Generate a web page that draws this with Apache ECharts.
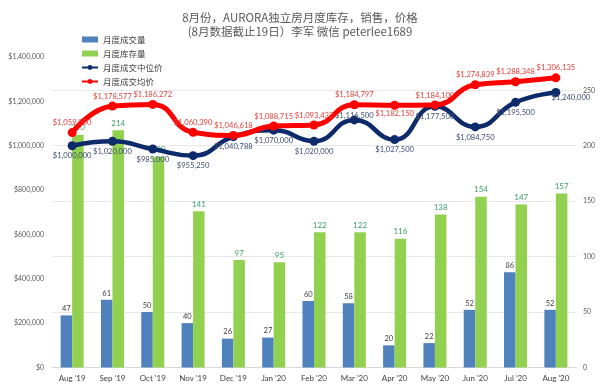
<!DOCTYPE html>
<html>
<head>
<meta charset="utf-8">
<script src="https://cdn.jsdelivr.net/npm/echarts@6/dist/echarts.min.js"></script>
<style>
html,body{margin:0;padding:0;background:#fff;}
#chart{width:600px;height:391px;}
</style>
</head>
<body>
<div id="chart"></div>
<script>
const months = ["Aug '19","Sep '19","Oct '19","Nov '19","Dec '19","Jan '20","Feb '20","Mar '20","Apr '20","May '20","Jun '20","Jul '20","Aug '20"];
const salesVolume = [47, 61, 50, 40, 26, 27, 60, 58, 20, 22, 52, 86, 52];
const inventory = [210, 214, 190, 141, 97, 95, 122, 122, 116, 138, 154, 147, 157];
const medianPrice = [1000000, 1020000, 985000, 955250, 1040788, 1070000, 1020000, 1116500, 1027500, 1177500, 1084750, 1195500, 1240000];
const meanPrice = [1059050, 1178577, 1186272, 1060390, 1046618, 1088715, 1093432, 1184797, 1182150, 1184100, 1274839, 1288348, 1306135];
const leftTicks = [0, 200000, 400000, 600000, 800000, 1000000, 1200000, 1400000];
const rightTicks = [0, 50, 100, 150, 200, 250];

const FONT = "Lato, 'Noto Sans CJK SC', sans-serif";
function money(v){ return '$' + Math.round(v).toString().replace(/\B(?=(\d{3})+(?!\d))/g, ','); }

const meanData = meanPrice.map((v, i) => {
  const d = { value: v };
  if (i === 8) d.label = { position: 'bottom', distance: 0 };
  return d;
});
const medianData = medianPrice.map((v, i) => {
  const d = { value: v };
  if (i === 7) d.label = { position: 'top', distance: -4 };
  if (i === 12) d.label = { position: 'bottom', distance: -3, offset: [15, 0] };
  return d;
});

const chart = echarts.init(document.getElementById('chart'), null, { renderer: 'canvas' });
chart.setOption({
  animation: false,
  backgroundColor: '#ffffff',
  textStyle: { fontFamily: FONT },
  title: {
    text: '8月份，AURORA独立房月度库存，销售，价格\n(8月数据截止19日）李军 微信 peterlee1689',
    left: 'center',
    top: 6,
    textStyle: { fontFamily: "'Noto Sans CJK SC', sans-serif", fontSize: 11.5, fontWeight: 'normal', color: '#595959', lineHeight: 14 }
  },
  legend: {
    orient: 'vertical',
    left: 76,
    top: 29,
    itemWidth: 16,
    itemHeight: 6,
    itemGap: 3,
    textStyle: { fontFamily: "'Noto Sans CJK SC', sans-serif", fontSize: 8.5, color: '#404040', lineHeight: 11 },
    data: [
      { name: '月度成交量', icon: 'rect' },
      { name: '月度库存量', icon: 'rect' },
      { name: '月度成交中位价' },
      { name: '月度成交均价' }
    ]
  },
  grid: { left: 52, right: 24, top: 57, bottom: 23.5, containLabel: false },
  xAxis: {
    type: 'category',
    data: months,
    boundaryGap: true,
    axisLine: { show: true, lineStyle: { color: '#d9d9d9', width: 1 } },
    axisTick: { show: false },
    axisLabel: { color: '#404040', fontSize: 8, margin: 7, fontFamily: FONT, interval: 0 },
    splitLine: { show: false }
  },
  yAxis: [
    {
      type: 'value',
      min: leftTicks[0],
      max: leftTicks[leftTicks.length - 1],
      interval: 200000,
      position: 'left',
      axisLine: { show: false },
      axisTick: { show: false },
      splitLine: { show: false },
      axisLabel: { color: '#595959', fontSize: 7, margin: 8, fontFamily: FONT, formatter: v => money(v) }
    },
    {
      type: 'value',
      min: rightTicks[0],
      max: 280,
      interval: 50,
      position: 'right',
      axisLine: { show: false },
      axisTick: { show: false },
      splitLine: { show: true, showMaxLine: false, lineStyle: { color: '#e8e8e8', width: 1 } },
      axisLabel: { color: '#595959', fontSize: 7, margin: 7, fontFamily: FONT, showMaxLabel: false,
        formatter: v => (rightTicks.indexOf(v) >= 0 ? String(v) : '') }
    }
  ],
  series: [
    {
      name: '月度成交量',
      type: 'bar',
      yAxisIndex: 1,
      data: salesVolume,
      barWidth: 11.5,
      barGap: '0%',
      z: 2,
      itemStyle: { color: '#4f81bd' },
      label: { show: true, position: 'top', distance: 3, color: '#404040', fontSize: 7.5, fontFamily: FONT }
    },
    {
      name: '月度库存量',
      type: 'bar',
      yAxisIndex: 1,
      data: inventory,
      barWidth: 11.5,
      barGap: '0%',
      z: 2,
      itemStyle: { color: '#92d050' },
      label: { show: true, position: 'top', distance: 3, color: '#3c9e68', fontSize: 8, fontFamily: FONT }
    },
    {
      name: '月度成交中位价',
      type: 'line',
      yAxisIndex: 0,
      data: medianData,
      smooth: 0.5,
      z: 4,
      symbol: 'circle',
      symbolSize: 9,
      lineStyle: { color: '#0d2b6b', width: 4.5 },
      itemStyle: { color: '#0d2b6b' },
      label: { show: true, position: 'bottom', distance: 2, color: '#3e4e70', fontSize: 7.6, fontFamily: FONT, formatter: p => money(p.value) }
    },
    {
      name: '月度成交均价',
      type: 'line',
      yAxisIndex: 0,
      data: meanData,
      smooth: 0.5,
      z: 5,
      symbol: 'circle',
      symbolSize: 9,
      lineStyle: { color: '#ff0000', width: 5 },
      itemStyle: { color: '#ff0000' },
      label: { show: true, position: 'top', distance: 1.5, color: '#e2403a', fontSize: 7.6, fontFamily: FONT, formatter: p => money(p.value) }
    }
  ]
});
</script>
</body>
</html>
